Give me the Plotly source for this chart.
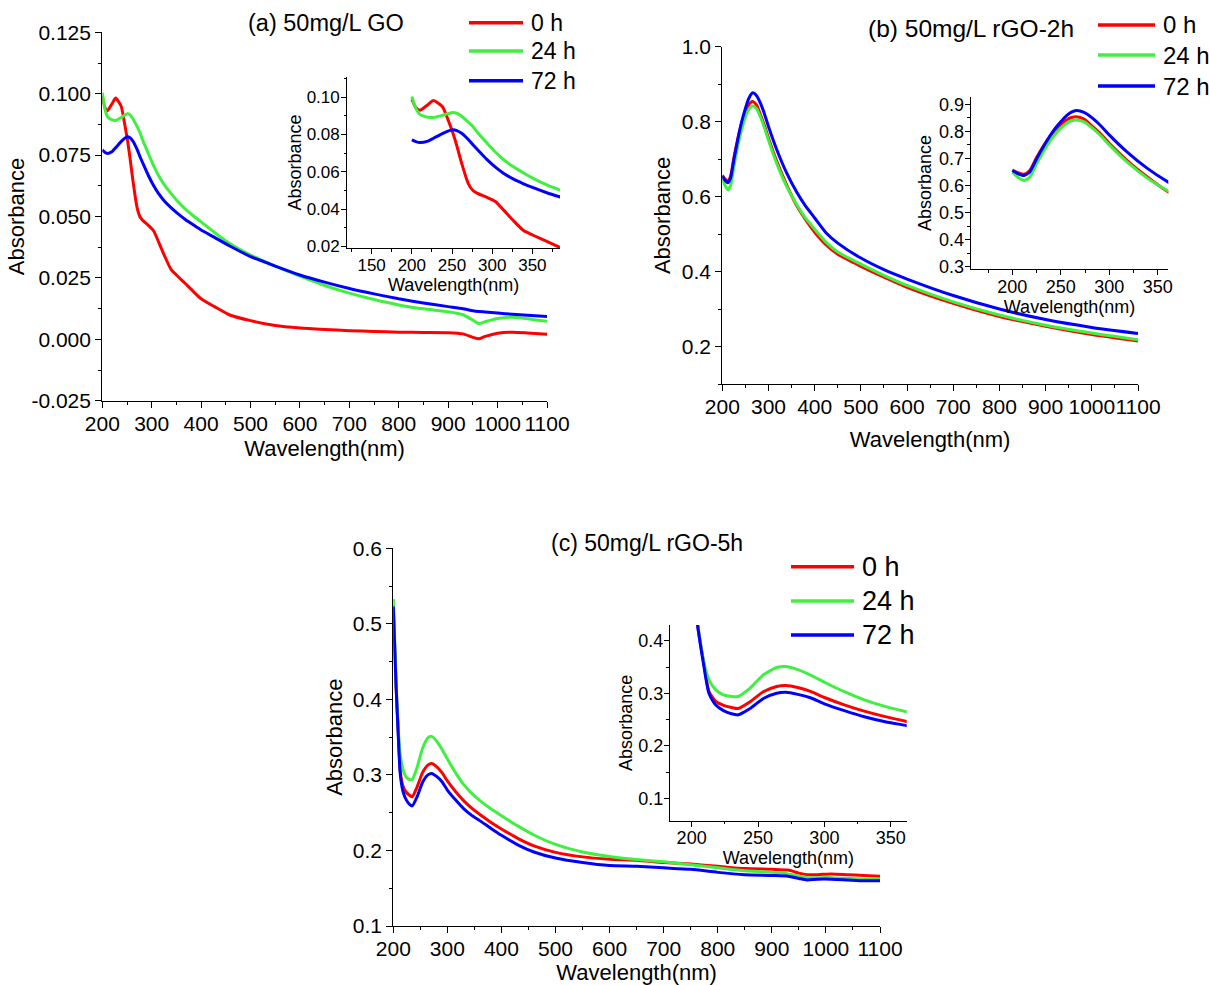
import plotly.graph_objects as go

W, H = 1209, 985
FONT = "Arial, 'Liberation Sans', sans-serif"

RED, GREEN, BLUE = "#ff0000", "#40f040", "#0000ff"
series_names = ["0 h", "24 h", "72 h"]
series_colors = [RED, GREEN, BLUE]

# ---------------- (a) 50mg/L GO ----------------
wl_a = [200, 205, 210, 220, 227, 238, 245, 251, 256, 262, 270, 276, 281, 293, 304,
        314, 326, 339, 351, 368, 384, 400, 427, 458, 500, 550, 600, 650, 700, 750,
        800, 850, 900, 930, 950, 962, 975, 1000, 1030, 1060, 1100]
a_0h = [0.0990, 0.0945, 0.0930, 0.0960, 0.0982, 0.0950, 0.0880, 0.0810, 0.0740, 0.0646,
        0.0540, 0.0500, 0.0486, 0.0464, 0.0441, 0.0396, 0.0340, 0.0285, 0.0260, 0.0227,
        0.0195, 0.0165, 0.0133, 0.0099, 0.0076, 0.0056, 0.0046, 0.0040, 0.0035, 0.0032,
        0.0029, 0.0028, 0.0027, 0.0022, 0.0008, 0.0002, 0.0012, 0.0025, 0.0029, 0.0026,
        0.0021]
a_24h = [0.1004, 0.0940, 0.0908, 0.0893, 0.0891, 0.0903, 0.0912, 0.0918, 0.0914, 0.0898,
         0.0868, 0.0843, 0.0815, 0.0757, 0.0706, 0.0666, 0.0628, 0.0594, 0.0565, 0.0530,
         0.0503, 0.0478, 0.0435, 0.0390, 0.0343, 0.0298, 0.0257, 0.0219, 0.0188, 0.0162,
         0.0140, 0.0124, 0.0112, 0.0100, 0.0078, 0.0064, 0.0072, 0.0085, 0.0090, 0.0084,
         0.0073]
a_72h = [0.0771, 0.0762, 0.0757, 0.0765, 0.0780, 0.0805, 0.0818, 0.0825, 0.0821, 0.0807,
         0.0775, 0.0745, 0.0722, 0.0668, 0.0625, 0.0593, 0.0562, 0.0536, 0.0515, 0.0488,
         0.0466, 0.0445, 0.0415, 0.0380, 0.0337, 0.0298, 0.0262, 0.0233, 0.0207, 0.0185,
         0.0165, 0.0148, 0.0133, 0.0124, 0.0116, 0.0113, 0.0111, 0.0107, 0.0102, 0.0098,
         0.0093]
a_yticks = [-0.025, 0.0, 0.025, 0.05, 0.075, 0.1, 0.125]
a_yticklabels = ["-0.025", "0.000", "0.025", "0.050", "0.075", "0.100", "0.125"]

# ---------------- (b) 50mg/L rGO-2h ----------------
wl_b = [200, 205, 212, 218, 225, 234, 242, 250, 256, 261, 266, 274, 283, 292, 300,
        318, 339, 361, 380, 400, 425, 450, 500, 550, 600, 700, 800, 900, 1000, 1100]
b_0h = [0.657, 0.648, 0.641, 0.655, 0.703, 0.757, 0.796, 0.824, 0.842, 0.851, 0.854,
        0.845, 0.817, 0.787, 0.756, 0.694, 0.632, 0.576, 0.539, 0.505, 0.471, 0.446,
        0.414, 0.385, 0.358, 0.315, 0.280, 0.254, 0.232, 0.215]
b_24h = [0.649, 0.632, 0.618, 0.630, 0.680, 0.737, 0.780, 0.812, 0.830, 0.839, 0.842,
         0.835, 0.811, 0.781, 0.750, 0.688, 0.628, 0.579, 0.543, 0.513, 0.478, 0.452,
         0.420, 0.390, 0.363, 0.319, 0.284, 0.257, 0.236, 0.218]
b_72h = [0.655, 0.645, 0.637, 0.650, 0.698, 0.755, 0.800, 0.835, 0.858, 0.871, 0.877,
         0.870, 0.848, 0.818, 0.787, 0.725, 0.664, 0.612, 0.575, 0.543, 0.503, 0.476,
         0.436, 0.405, 0.380, 0.336, 0.300, 0.272, 0.251, 0.235]

# ---------------- (c) 50mg/L rGO-5h ----------------
wl_c = [200, 205, 209, 213, 218, 224, 230, 235, 244, 254, 264, 271, 280, 290, 300,
        315, 330, 345, 362, 380, 400, 430, 460, 500, 550, 600, 650, 700, 750, 800,
        850, 900, 930, 950, 965, 985, 1010, 1040, 1070, 1100]
c_0h = [0.523, 0.420, 0.360, 0.304, 0.285, 0.277, 0.273, 0.271, 0.284, 0.303, 0.313,
        0.315, 0.311, 0.303, 0.292, 0.278, 0.266, 0.256, 0.2465, 0.2375, 0.2285, 0.216,
        0.206, 0.1975, 0.1915, 0.1885, 0.187, 0.184, 0.182, 0.179, 0.176, 0.175, 0.174,
        0.170, 0.168, 0.168, 0.169, 0.168, 0.167, 0.166]
c_24h = [0.533, 0.425, 0.362, 0.326, 0.307, 0.297, 0.294, 0.294, 0.310, 0.335, 0.349,
         0.351, 0.345, 0.334, 0.321, 0.303, 0.2875, 0.2755, 0.265, 0.2555, 0.246, 0.2325,
         0.2205, 0.208, 0.198, 0.192, 0.188, 0.185, 0.181, 0.177, 0.173, 0.171, 0.169,
         0.166, 0.164, 0.164, 0.164, 0.163, 0.162, 0.162]
c_72h = [0.523, 0.420, 0.355, 0.300, 0.278, 0.267, 0.261, 0.259, 0.271, 0.290, 0.300,
         0.302, 0.298, 0.291, 0.280, 0.267, 0.2555, 0.2465, 0.2385, 0.2295, 0.220, 0.2075,
         0.198, 0.190, 0.184, 0.180, 0.179, 0.177, 0.175, 0.171, 0.168, 0.167, 0.166,
         0.163, 0.161, 0.162, 0.162, 0.161, 0.160, 0.160]

panels = [
    # wavelengths, series, main axes, inset axes
    (wl_a, [a_0h, a_24h, a_72h], ("x", "y"), ("x2", "y2")),
    (wl_b, [b_0h, b_24h, b_72h], ("x3", "y3"), ("x4", "y4")),
    (wl_c, [c_0h, c_24h, c_72h], ("x5", "y5"), ("x6", "y6")),
]

fig = go.Figure()
for wl, series, main_ax, inset_ax in panels:
    for (xa, ya) in (main_ax, inset_ax):
        for name, ys, col in zip(series_names, series, series_colors):
            fig.add_trace(go.Scatter(
                x=wl, y=ys, name=name, mode="lines", xaxis=xa, yaxis=ya,
                line=dict(color=col, width=3, shape="spline", smoothing=0.6),
                showlegend=False, hoverinfo="skip"))


def dom_x(left, right):
    return [left / W, right / W]


def dom_y(top, bottom):
    return [1 - bottom / H, 1 - top / H]


def axis(domain, rng, anchor, dtick, minor_dtick, size, tick0=0, fmt=None,
         title=None, title_size=22, standoff=None, ticklen=6, label_shift=0, **extra):
    d = dict(
        domain=domain, range=rng, anchor=anchor, automargin=False,
        showgrid=False, zeroline=False,
        showline=True, linecolor="black", linewidth=1.3, mirror=False,
        ticks="outside", ticklen=ticklen, tickwidth=1.3, tickcolor="black",
        tickangle=0, tick0=tick0, dtick=dtick, ticklabelstandoff=label_shift,
        tickfont=dict(family=FONT, size=size, color="black"),
        minor=dict(dtick=minor_dtick, tick0=tick0, ticks="outside",
                   ticklen=ticklen / 2, tickwidth=1.2, tickcolor="black"),
    )
    if fmt:
        d["tickformat"] = fmt
    if title:
        t = dict(text=title, font=dict(family=FONT, size=title_size, color="black"))
        if standoff is not None:
            t["standoff"] = standoff
        d["title"] = t
    d.update(extra)
    return d


WL = "Wavelength(nm)"
AB = "Absorbance"

layout_axes = dict(
    # (a) main
    xaxis=axis(dom_x(102.3, 547), [200, 1100], "y", 100, 50, 21, fmt="d",
               title=WL, standoff=6, label_shift=-2),
    yaxis=axis(dom_y(32.3, 400.7), [-0.025, 0.125], "x", None, 0.0125, 21,
               title=AB, standoff=0, tickmode="array", tickvals=a_yticks,
               ticktext=a_yticklabels),
    # (a) inset
    xaxis2=axis(dom_x(347.3, 560), [119.7, 384.4], "y2", 50, 25, 17, fmt="d",
                title=WL, title_size=18, standoff=2, ticklen=5, label_shift=-4),
    yaxis2=axis(dom_y(76.7, 248.3), [0.019, 0.111], "x2", 0.02, 0.01, 17, fmt=".2f",
                title=AB, title_size=18, standoff=0, ticklen=5, label_shift=-2),
    # (b) main
    xaxis3=axis(dom_x(722.3, 1138), [200, 1100], "y3", 100, 50, 21, fmt="d",
                title=WL, standoff=14, label_shift=-2),
    yaxis3=axis(dom_y(46.7, 384), [0.1, 1.0], "x3", 0.2, 0.1, 21, fmt=".1f",
                title=AB, standoff=5),
    # (b) inset
    xaxis4=axis(dom_x(970.7, 1168.3), [157, 361], "y4", 50, 25, 18, fmt="d",
                title=WL, title_size=18, standoff=0, ticklen=5, label_shift=-4),
    yaxis4=axis(dom_y(96.7, 269.3), [0.29, 0.928], "x4", 0.1, 0.05, 18, fmt=".1f",
                title=AB, title_size=18, standoff=2, ticklen=5, label_shift=-3),
    # (c) main
    xaxis5=axis(dom_x(393.3, 880), [200, 1100], "y5", 100, 50, 21, fmt="d",
                title=WL, standoff=2, label_shift=-2),
    yaxis5=axis(dom_y(548.3, 926), [0.1, 0.6], "x5", 0.1, 0.05, 21, fmt=".1f",
                title=AB, standoff=4),
    # (c) inset
    xaxis6=axis(dom_x(670, 906.7), [183.7, 362], "y6", 50, 25, 18, fmt="d",
                title=WL, title_size=18, standoff=0, ticklen=5, label_shift=-4),
    yaxis6=axis(dom_y(625, 820.7), [0.0575, 0.43], "x6", 0.1, 0.05, 18, fmt=".1f",
                title=AB, title_size=18, standoff=0, ticklen=5, label_shift=-3),
)

# Panel titles
panel_titles = ["(a) 50mg/L GO", "(b) 50mg/L rGO-2h", "(c) 50mg/L rGO-5h"]
title_pos = [(326.3, 23.3, 23.5), (970.8, 28.8, 24.5), (647.4, 543.3, 23)]

annotations = []
for text, (cx, cy, fs) in zip(panel_titles, title_pos):
    annotations.append(dict(text=text, x=cx / W, y=1 - cy / H, xref="paper", yref="paper",
                            xanchor="center", yanchor="middle", showarrow=False,
                            font=dict(family=FONT, size=fs, color="black")))

# Legend keys: line from x0 to x1, label starting at xt, rows at the given y positions
legend_boxes = [
    (469, 523, 528.5, [22.7, 51.0, 80.7], 23),
    (1098, 1155, 1161, [25.0, 55.0, 86.0], 24),
    (791, 854, 859.5, [566.7, 601.0, 635.0], 27),
]
shapes = []
for x0, x1, xt, rows, fs in legend_boxes:
    for name, col, ry in zip(series_names, series_colors, rows):
        shapes.append(dict(type="line", xref="paper", yref="paper",
                           x0=x0 / W, x1=x1 / W, y0=1 - ry / H, y1=1 - ry / H,
                           line=dict(color=col, width=3.5)))
        annotations.append(dict(text=name, x=xt / W, y=1 - ry / H, xref="paper",
                                yref="paper", xanchor="left", yanchor="middle",
                                showarrow=False,
                                font=dict(family=FONT, size=fs, color="black")))

fig.update_layout(
    width=W, height=H, autosize=False,
    margin=dict(l=0, r=0, t=0, b=0, autoexpand=False),
    paper_bgcolor="white", plot_bgcolor="rgba(0,0,0,0)",
    showlegend=False,
    annotations=annotations, shapes=shapes,
    font=dict(family=FONT, color="black"),
    **layout_axes,
)

fig.write_html("out.html")
